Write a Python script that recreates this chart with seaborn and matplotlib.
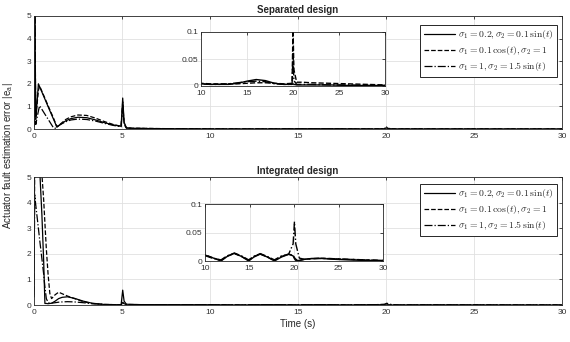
import numpy as np
import pandas as pd
import matplotlib
matplotlib.use("Agg")
import matplotlib.pyplot as plt
import seaborn as sns

# ---- data -------------------------------------------------------------
labels = [r"$\sigma_1=0.2, \sigma_2=0.1\,\sin(t)$",
          r"$\sigma_1=0.1\,\cos(t), \sigma_2=1$",
          r"$\sigma_1=1, \sigma_2=1.5\,\sin(t)$"]

# Separated design
t_sep = [0.0, 0.04, 0.1, 0.25, 0.32, 0.6, 0.9, 1.1, 1.2, 1.3, 1.5, 1.8, 2.1,
         2.5, 3.0, 3.5, 4.0, 4.5, 4.95, 5.04, 5.12, 5.25, 5.6, 6.5, 8.0,
         10.0, 11.0, 12.0, 13.0, 14.0, 15.0, 16.0, 17.0, 18.0, 19.0, 19.9,
         20.0, 20.1, 20.4, 21.0, 22.0, 24.0, 26.0, 28.0, 30.0]
sep_a = [0.3, 6.0, 0.4, 2.0, 1.87, 1.36, 0.81, 0.45, 0.27, 0.08, 0.2, 0.36,
         0.46, 0.52, 0.5, 0.4, 0.28, 0.18, 0.12, 1.37, 0.3, 0.05, 0.03, 0.02,
         0.01, 0.004, 0.003, 0.003, 0.003, 0.005, 0.009, 0.012, 0.01, 0.005,
         0.003, 0.003, 0.004, 0.003, 0.002, 0.002, 0.002, 0.002, 0.001,
         0.001, 0.001]
sep_b = [0.2, 6.5, 0.5, 1.7, 1.9, 1.4, 0.85, 0.5, 0.3, 0.1, 0.22, 0.42,
         0.54, 0.62, 0.6, 0.48, 0.33, 0.2, 0.12, 1.2, 0.25, 0.05, 0.035,
         0.025, 0.012, 0.005, 0.004, 0.004, 0.004, 0.004, 0.005, 0.006,
         0.006, 0.005, 0.004, 0.005, 0.11, 0.03, 0.007, 0.007, 0.006, 0.005,
         0.004, 0.003, 0.002]
sep_c = [0.1, 5.5, 0.2, 0.8, 1.03, 0.68, 0.31, 0.06, 0.03, 0.1, 0.2, 0.32,
         0.4, 0.44, 0.42, 0.35, 0.25, 0.16, 0.1, 1.0, 0.2, 0.04, 0.03, 0.02,
         0.01, 0.004, 0.003, 0.003, 0.004, 0.006, 0.008, 0.009, 0.008,
         0.004, 0.003, 0.003, 0.06, 0.01, 0.003, 0.003, 0.003, 0.002, 0.002,
         0.001, 0.001]

# Integrated design
t_int = [0.0, 0.04, 0.1, 0.2, 0.33, 0.45, 0.55, 0.62, 0.7, 0.8, 0.9, 1.0,
         1.2, 1.4, 1.6, 1.9, 2.3, 2.8, 3.3, 4.0, 4.95, 5.04, 5.12, 5.25, 6.0,
         8.0, 10.0, 10.8, 11.8, 12.5, 13.3, 14.1, 14.9, 15.5, 16.2, 17.0,
         17.8, 18.6, 19.4, 19.9, 20.05, 20.2, 20.6, 21.2, 22.0, 23.0, 24.5,
         26.0, 28.0, 30.0]
int_a = [0.5, 7.0, 6.5, 6.0, 5.2, 3.5, 1.7, 0.06, 0.06, 0.05, 0.06, 0.07,
         0.15, 0.25, 0.3, 0.32, 0.26, 0.15, 0.07, 0.02, 0.01, 0.58, 0.15,
         0.03, 0.015, 0.012, 0.0105, 0.006, 0.0, 0.008, 0.0135, 0.008, 0.0,
         0.007, 0.012, 0.007, 0.0, 0.007, 0.0117, 0.009, 0.004, 0.001, 0.001,
         0.003, 0.0045, 0.0045, 0.003, 0.002, 0.001, 0.0]
int_b = [0.3, 6.0, 7.0, 7.0, 6.5, 5.1, 4.1, 3.2, 2.2, 1.2, 0.45, 0.25, 0.4,
         0.5, 0.44, 0.35, 0.25, 0.13, 0.06, 0.02, 0.01, 0.1, 0.05, 0.02,
         0.015, 0.012, 0.011, 0.006, 0.001, 0.009, 0.013, 0.008, 0.001,
         0.008, 0.0125, 0.007, 0.001, 0.008, 0.012, 0.01, 0.006, 0.003,
         0.001, 0.003, 0.004, 0.005, 0.004, 0.003, 0.002, 0.001]
int_c = [0.4, 4.3, 3.9, 3.3, 2.5, 1.8, 1.2, 0.7, 0.25, 0.1, 0.06, 0.07,
         0.09, 0.11, 0.12, 0.13, 0.12, 0.09, 0.05, 0.02, 0.01, 0.1, 0.04,
         0.015, 0.012, 0.011, 0.0095, 0.005, 0.002, 0.009, 0.014, 0.009,
         0.002, 0.008, 0.013, 0.008, 0.002, 0.009, 0.012, 0.03, 0.069, 0.03,
         0.005, 0.003, 0.004, 0.0045, 0.004, 0.003, 0.002, 0.001]

x_ticks = [0, 5, 10, 15, 20, 25, 30]
y_ticks = [0, 1, 2, 3, 4, 5]
inset_x_ticks = [10, 15, 20, 25, 30]
inset_y_ticks = [0, 0.05, 0.1]
inset_y_labels = ["0", "0.05", "0.1"]

# ---- style ------------------------------------------------------------
sns.set_theme(style="whitegrid")
plt.rcParams.update({
    "font.family": ["Liberation Sans", "DejaVu Sans"],
    "mathtext.fontset": "cm",
    "axes.edgecolor": "#262626",
    "axes.linewidth": 0.6,
    "grid.color": "#e0e0e0",
    "grid.linewidth": 0.6,
    "xtick.direction": "in",
    "ytick.direction": "in",
    "xtick.top": True,
    "ytick.right": True,
    "xtick.major.size": 2.5,
    "ytick.major.size": 2.5,
    "xtick.major.width": 0.6,
    "ytick.major.width": 0.6,
    "xtick.major.pad": 3,
    "ytick.major.pad": 2,
    "xtick.color": "#262626",
    "ytick.color": "#262626",
    "xtick.labelcolor": "#333333",
    "ytick.labelcolor": "#333333",
    "font.size": 6,
})

styles = ["-", "--", "-."]

W, H = 570, 342
fig = plt.figure(figsize=(W / 100, H / 100), dpi=100)


def px_axes(left, top, right, bottom):
    return fig.add_axes([left / W, 1 - bottom / H, (right - left) / W,
                         (bottom - top) / H])


def draw(ax, t, series, lw):
    for vals, ls, lab in zip(series, styles, labels):
        df = pd.DataFrame({"t": t, "e": vals})
        sns.lineplot(data=df, x="t", y="e", ax=ax, color="black", lw=lw,
                     linestyle=ls, label=lab, legend=False, sort=False,
                     estimator=None)
    ax.set_xlabel("")
    ax.set_ylabel("")


def main_axes(ax, title):
    ax.set_xlim(0, 30)
    ax.set_ylim(0, 5)
    ax.set_xticks(x_ticks)
    ax.set_yticks(y_ticks)
    ax.tick_params(labelsize=6)
    ax.grid(True)
    ax.set_title(title, fontsize=7, fontweight="bold", pad=2)
    for s in ax.spines.values():
        s.set_visible(True)


def inset_axes(ax):
    ax.set_xlim(10, 30)
    ax.set_ylim(0, 0.1)
    ax.set_xticks(inset_x_ticks)
    ax.set_yticks(inset_y_ticks)
    ax.set_yticklabels(inset_y_labels)
    ax.tick_params(labelsize=6)
    ax.grid(True)
    for s in ax.spines.values():
        s.set_visible(True)


def legend(ax, anchor):
    leg = ax.legend(loc="upper right", bbox_to_anchor=anchor,
                    bbox_transform=fig.transFigure, fontsize=7,
                    frameon=True, fancybox=False, framealpha=1,
                    edgecolor="#262626", handlelength=3.2, handletextpad=0.3,
                    borderpad=0.35, labelspacing=0.3, borderaxespad=0)
    leg.get_frame().set_linewidth(0.7)


RIGHT = 562

# Separated design
ax1 = px_axes(34, 16, RIGHT, 129)
draw(ax1, t_sep, [sep_a, sep_b, sep_c], 0.9)
main_axes(ax1, "Separated design")
legend(ax1, (557 / W, 1 - 25 / H))

ins1 = px_axes(201, 32, 385, 86)
draw(ins1, t_sep, [sep_a, sep_b, sep_c], 1.0)
inset_axes(ins1)

# Integrated design
ax2 = px_axes(34, 177, RIGHT, 305)
draw(ax2, t_int, [int_a, int_b, int_c], 0.9)
main_axes(ax2, "Integrated design")
legend(ax2, (557 / W, 1 - 184 / H))
ax2.set_xlabel("Time (s)", fontsize=7, labelpad=2)

ins2 = px_axes(205, 204, 383, 261)
draw(ins2, t_int, [int_a, int_b, int_c], 1.0)
inset_axes(ins2)

fig.text(8 / W, 1 - 155 / H, r"Actuator fault estimation error |e$_\mathregular{a}$|",
         rotation=90, ha="center", va="center", fontsize=7, color="#262626")

fig.savefig("out.png", dpi=100)
